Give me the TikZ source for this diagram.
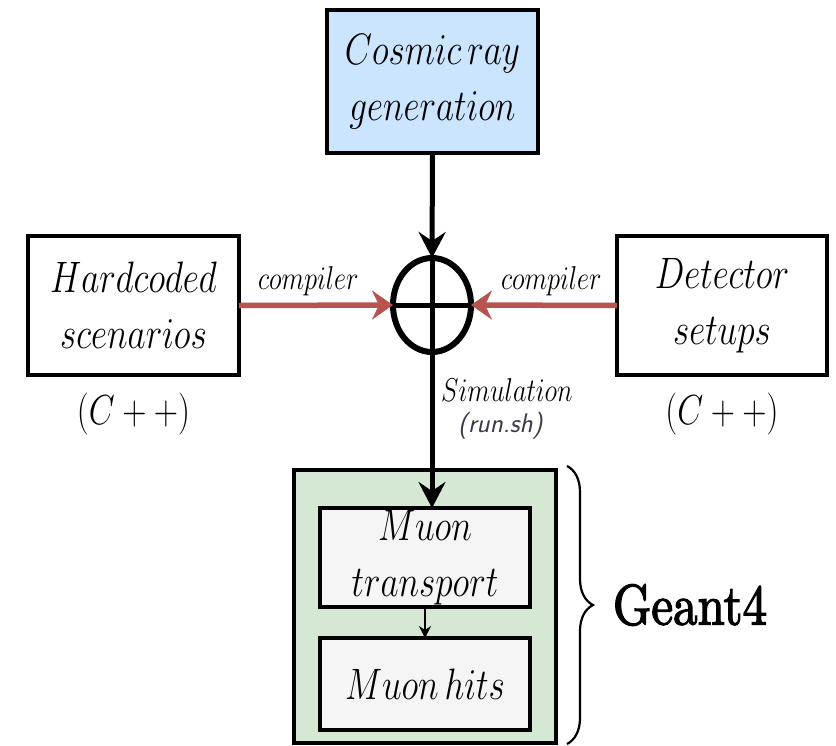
\RequirePackage{fix-cm}
\documentclass[tikz,border=0pt]{standalone}
\usepackage[no-math]{fontspec}
\newfontfamily\gbf[FakeBold=2.5]{lmroman10-regular.otf}
\usepackage{graphicx}
\usetikzlibrary{arrows.meta,shapes.geometric,decorations.pathreplacing}
\definecolor{cosmicblue}{HTML}{CCE5FF}
\definecolor{geantgreen}{HTML}{D5E8D4}
\definecolor{boxgray}{HTML}{F5F5F5}
\definecolor{compred}{HTML}{B85450}
\definecolor{rungray}{HTML}{3A3A48}
\newcommand{\hs}[1]{\scalebox{0.8}[1]{#1}}
\begin{document}
\begin{tikzpicture}[x=1pt,y=-1pt,
  box/.style={draw=black, line width=4pt, inner sep=0pt, outer sep=0pt, align=center, font=\fontsize{44}{56}\selectfont},
  blackarrow/.style={line width=5pt, -{Stealth[length=26pt,width=27pt,inset=9pt]}},
  thinarrow/.style={line width=2.2pt, -{Stealth[length=12pt,width=12pt,inset=4pt]}},
  redarrow/.style={draw=compred, line width=5.5pt, -{Stealth[length=21pt,width=29pt,inset=7pt]}},
  lbl/.style={font=\fontsize{33}{40}\selectfont, inner sep=0pt},
  cpp/.style={font=\fontsize{42}{50}\selectfont, inner sep=0pt},
]
\useasboundingbox (0,0) rectangle (836,745);

\node[box, fill=cosmicblue, minimum width=211pt, minimum height=143pt] (cosmic) at (432.5,81.5)
  {\hs{$Cosmic\,ray$}\\\hs{$generation$}};
\node[box, minimum width=211pt, minimum height=139pt] (hard) at (133.5,305.5)
  {\hs{$Hardcoded$}\\\hs{$scenarios$}};
\node[box, minimum width=210pt, minimum height=139pt] (det) at (722,305.5)
  {\hs{$Detector$}\\\hs{$setups$}};
\node[draw=black, ellipse, line width=6pt, inner sep=0pt, outer sep=0pt,
  minimum width=78pt, minimum height=94pt] (sum) at (432,305) {};

\node[cpp] (cpp1) at ([yshift=-39pt]hard.south) {\hs{$(C++)$}};
\node[cpp] (cpp2) at ([yshift=-39pt]det.south) {\hs{$(C++)$}};

\node[box, fill=geantgreen, minimum width=262pt, minimum height=273pt] (geant) at (425,606.5) {};
\node[box, fill=boxgray, minimum width=210pt, minimum height=99pt] (transport) at (425,557.5)
  {\hs{$Muon$}\\\hs{$transport$}};
\node[box, fill=boxgray, minimum width=210pt, minimum height=92pt] (hits) at (425,684)
  {\hs{$Muon\,hits$}};

\draw[blackarrow] (cosmic.south) -- (sum.north);
\draw[line width=5pt] (sum.north) -- (sum.south);
\draw[line width=5pt] (sum.west) -- (sum.east);
\draw[blackarrow] (sum.south) -- (sum.south |- transport.north);
\draw[thinarrow] (transport.south) -- (hits.north);

\draw[redarrow] (hard.east) -- node[lbl, pos=0.45, yshift=24pt] (c1) {\hs{$compiler$}} (sum.west);
\draw[redarrow] (det.west) -- node[lbl, pos=0.45, yshift=24pt] (c2) {\hs{$compiler$}} (sum.east);

\node[lbl, anchor=west] (sim) at (441,390) {\hs{$Simulation$}};
\node[font=\sffamily\itshape\fontsize{27}{32}\selectfont, text=rungray, inner sep=0pt, anchor=west] (run) at (458,426) {(run.sh)};

\coordinate (bt) at (567,466);
\coordinate (bb) at (567,744);
\draw[line width=2.2pt, decorate, decoration={brace, amplitude=26pt}] (bt) -- (bb);
\node[font=\gbf\fontsize{57}{66}\selectfont, inner sep=0pt] (g4) at (690,605) {\scalebox{0.86}[1]{Geant4}};
\end{tikzpicture}
\end{document}
